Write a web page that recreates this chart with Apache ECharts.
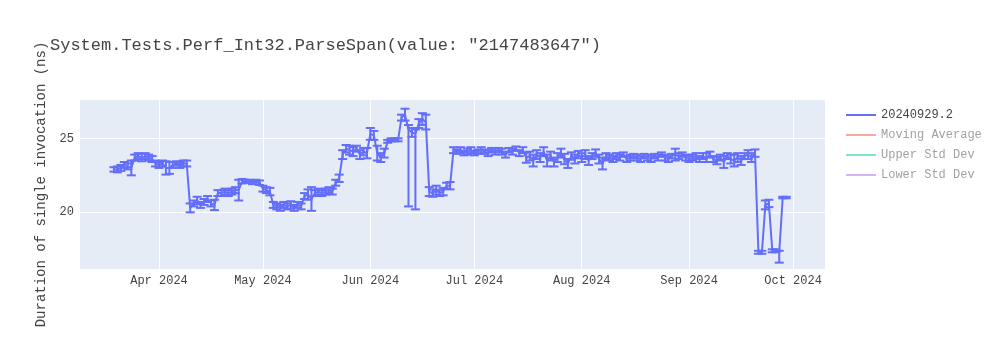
<!DOCTYPE html>
<html><head><meta charset="utf-8">
<script src="https://cdn.jsdelivr.net/npm/echarts@6/dist/echarts.min.js"></script>
<style>html,body{margin:0;padding:0;background:#fff}#c{width:1000px;height:350px}</style>
</head><body><div id="c"></div>
<script>
const titleText = 'System.Tests.Perf_Int32.ParseSpan(value: "2147483647")';
const yAxisTitle = 'Duration of single invocation (ns)';
const seriesName = '20240929.2';
const hiddenSeries = ['Moving Average', 'Upper Std Dev', 'Lower Std Dev'];

// daily values (ns), one per day starting at the block's first date
const valuesMar = [22.9, 22.9, 23.0, 23.2, 23.1, 23.0, 23.7, 23.8, 23.7, 23.8, 23.7, 23.6, 23.3];
const errMar    = [0.15, 0.2, 0.2, 0.2, 0.2, 0.5, 0.2, 0.2, 0.25, 0.2, 0.2, 0.2, 0.2];
const valuesApr = [23.2, 23.3, 23.0, 23.0, 23.2, 23.3, 23.2, 23.3, 23.3, 20.3, 20.6, 20.8, 20.5, 20.7, 20.9, 20.6, 20.5, 21.3, 21.3, 21.4, 21.3, 21.4, 21.5, 21.5, 22.1, 22.1, 22.1, 22.0, 22.1, 22.0];
const errApr    = [0.2, 0.2, 0.45, 0.4, 0.2, 0.15, 0.2, 0.2, 0.2, 0.3, 0.2, 0.25, 0.2, 0.2, 0.2, 0.2, 0.35, 0.2, 0.2, 0.2, 0.2, 0.2, 0.2, 0.7, 0.15, 0.1, 0.1, 0.1, 0.1, 0.15];
const valuesMay = [21.6, 21.5, 21.4, 20.5, 20.4, 20.3, 20.5, 20.4, 20.5, 20.3, 20.5, 20.4, 21.1, 21.2, 20.9, 21.3, 21.4, 21.3, 21.4, 21.5, 21.4, 22.0, 22.3, 23.9, 24.3, 24.2, 24.1, 24.3, 23.9, 24.1, 24.0];
const errMay    = [0.2, 0.2, 0.25, 0.2, 0.2, 0.2, 0.2, 0.2, 0.25, 0.2, 0.2, 0.2, 0.2, 0.35, 0.8, 0.2, 0.2, 0.2, 0.2, 0.2, 0.2, 0.2, 0.25, 0.3, 0.25, 0.3, 0.3, 0.2, 0.3, 0.25, 0.35];
const valuesJun = [25.3, 25.2, 24.0, 23.7, 24.0, 24.8, 24.9, 24.9, 24.9, 26.4, 26.6, 25.6, 25.4, 25.3, 26.0, 26.3, 26.1, 21.4, 21.3, 21.5, 21.3, 21.4, 21.8, 21.8, 24.2, 24.1, 24.2, 24.0, 24.1, 24.2];
const errJun    = [0.4, 0.3, 0.5, 0.3, 0.3, 0.1, 0.1, 0.1, 0.1, 0.2, 0.4, 0.3, 0.3, 0.3, 0.3, 0.4, 0.5, 0.3, 0.25, 0.3, 0.2, 0.25, 0.2, 0.25, 0.2, 0.15, 0.2, 0.15, 0.2, 0.2];
const valuesJul = [24.0, 24.1, 24.2, 24.1, 24.0, 24.2, 24.1, 24.2, 24.1, 23.9, 24.2, 24.1, 24.3, 24.0, 24.2, 23.7, 23.8, 23.5, 23.9, 23.7, 24.1, 23.5, 23.8, 23.4, 23.7, 24.0, 23.6, 23.3, 23.8, 23.6, 23.9];
const errJul    = [0.15, 0.15, 0.2, 0.15, 0.2, 0.15, 0.2, 0.15, 0.2, 0.2, 0.15, 0.2, 0.15, 0.2, 0.2, 0.35, 0.3, 0.4, 0.3, 0.3, 0.3, 0.4, 0.3, 0.3, 0.3, 0.3, 0.35, 0.3, 0.25, 0.3, 0.25];
const valuesAug = [23.7, 23.9, 23.5, 23.8, 24.0, 23.6, 23.3, 23.8, 23.7, 23.6, 23.8, 23.7, 23.9, 23.6, 23.7, 23.8, 23.7, 23.6, 23.8, 23.7, 23.6, 23.8, 23.7, 23.9, 23.7, 23.6, 23.8, 23.9, 23.8, 23.9, 23.7];
const errAug    = [0.3, 0.3, 0.3, 0.2, 0.25, 0.3, 0.4, 0.2, 0.2, 0.2, 0.2, 0.2, 0.15, 0.2, 0.2, 0.15, 0.2, 0.2, 0.15, 0.2, 0.2, 0.15, 0.2, 0.15, 0.2, 0.2, 0.15, 0.4, 0.2, 0.15, 0.2];
const valuesSep = [23.6, 23.7, 23.8, 23.6, 23.8, 23.7, 23.9, 23.6, 23.5, 23.7, 23.4, 23.8, 23.6, 23.5, 23.7, 23.5, 23.8, 23.9, 23.7, 24.0, 17.3, 17.3, 20.5, 20.6, 17.4, 17.4, 17.3, 21.0, 21.0];
const errSep    = [0.2, 0.2, 0.2, 0.2, 0.2, 0.3, 0.2, 0.2, 0.25, 0.2, 0.4, 0.2, 0.3, 0.4, 0.3, 0.3, 0.2, 0.3, 0.3, 0.25, 0.1, 0.1, 0.3, 0.25, 0.1, 0.1, 0.1, 0.05, 0.05];
// points whose lower whisker reaches much further down
const longLowWhiskers = [['2024-06-12', 20.4], ['2024-06-14', 20.2], ['2024-09-27', 16.6]];

const blocks = [
  ['2024-03-19', valuesMar, errMar], ['2024-04-01', valuesApr, errApr], ['2024-05-01', valuesMay, errMay],
  ['2024-06-01', valuesJun, errJun], ['2024-07-01', valuesJul, errJul], ['2024-08-01', valuesAug, errAug],
  ['2024-09-01', valuesSep, errSep]
];
const tickDates = ['2024-04-01', '2024-05-01', '2024-06-01', '2024-07-01', '2024-08-01', '2024-09-01', '2024-10-01'];
const tickLabels = ['Apr 2024', 'May 2024', 'Jun 2024', 'Jul 2024', 'Aug 2024', 'Sep 2024', 'Oct 2024'];
const yTicks = [20, 25];
const xRange = ['2024-03-09T04:48', '2024-10-10T05:00'];
const yRange = [16.17, 27.59];

function parseDay(s) { const [y, m, d] = s.split('-').map(Number); return new Date(y, m - 1, d).getTime(); }
const lowMap = {};
longLowWhiskers.forEach(([d, v]) => { lowMap[parseDay(d)] = v; });

const lineData = [], errData = [];
blocks.forEach(([start, vals, errs]) => {
  const [y, m, d] = start.split('-').map(Number);
  vals.forEach((v, i) => {
    const t = new Date(y, m - 1, d + i).getTime();
    lineData.push([t, v]);
    const lo = lowMap[t] !== undefined ? lowMap[t] : v - errs[i];
    errData.push([t, v, lo, v + errs[i]]);
  });
});

const FONT = '"Liberation Mono", "Courier New", monospace';
const tickTimes = tickDates.map(parseDay);
const chart = echarts.init(document.getElementById('c'), null, {renderer: 'canvas'});

function renderErrorBar(params, api) {
  const x = api.value(0);
  const lo = api.coord([x, api.value(2)]);
  const hi = api.coord([x, api.value(3)]);
  const hw = 4.5;
  const style = {stroke: '#636efa', lineWidth: 2};
  return {type: 'group', children: [
    {type: 'line', shape: {x1: lo[0], y1: lo[1], x2: hi[0], y2: hi[1]}, style},
    {type: 'line', shape: {x1: lo[0] - hw, y1: lo[1], x2: lo[0] + hw, y2: lo[1]}, style},
    {type: 'line', shape: {x1: hi[0] - hw, y1: hi[1], x2: hi[0] + hw, y2: hi[1]}, style}
  ]};
}

const fadedColors = ['rgba(239,85,59,0.5)', 'rgba(0,204,150,0.5)', 'rgba(171,99,250,0.5)'];

chart.setOption({
  animation: false,
  backgroundColor: '#fff',
  title: {text: titleText, left: 45, top: 32, textStyle: {fontFamily: FONT, fontSize: 17, fontWeight: 'normal', color: '#444'}},
  grid: {left: 80, right: 175, top: 100, bottom: 81, show: true, backgroundColor: '#e5ecf6', borderWidth: 0, containLabel: false},
  legend: {
    orient: 'vertical', left: 841, top: 104, itemWidth: 30, itemHeight: 2, itemGap: 8, icon: 'rect', selectedMode: false,
    textStyle: {fontFamily: FONT, fontSize: 12, color: '#444'},
    data: [{name: seriesName}].concat(hiddenSeries.map(n => ({name: n, textStyle: {color: '#a2a2a2'}})))
  },
  xAxis: {
    type: 'value', min: new Date(xRange[0]).getTime(), max: new Date(xRange[1]).getTime(),
    axisLine: {show: false}, axisTick: {show: false, customValues: tickTimes},
    splitLine: {show: true, lineStyle: {color: '#fff', width: 1}},
    axisLabel: {customValues: tickTimes, margin: 6, color: '#444', fontFamily: FONT, fontSize: 12,
      formatter: v => { const i = tickTimes.indexOf(v); return i >= 0 ? tickLabels[i] : ''; }}
  },
  yAxis: {
    type: 'value', min: yRange[0], max: yRange[1],
    name: yAxisTitle, nameLocation: 'middle', nameGap: 29, nameRotate: 90,
    nameTextStyle: {fontFamily: FONT, fontSize: 14, color: '#444'},
    axisLine: {show: false}, axisTick: {show: false, customValues: yTicks},
    splitLine: {show: true, lineStyle: {color: '#fff', width: 1}},
    axisLabel: {customValues: yTicks, margin: 6, color: '#444', fontFamily: FONT, fontSize: 12}
  },
  series: [
    {name: 'errorbars', type: 'custom', renderItem: renderErrorBar, data: errData, encode: {x: 0, y: 1}, z: 2, silent: true},
    {name: seriesName, type: 'line', data: lineData, showSymbol: false, color: '#636efa', lineStyle: {width: 2, color: '#636efa'}, z: 3}
  ].concat(hiddenSeries.map((n, i) => ({name: n, type: 'line', data: [], color: fadedColors[i], lineStyle: {color: fadedColors[i]}})))
});
</script></body></html>
